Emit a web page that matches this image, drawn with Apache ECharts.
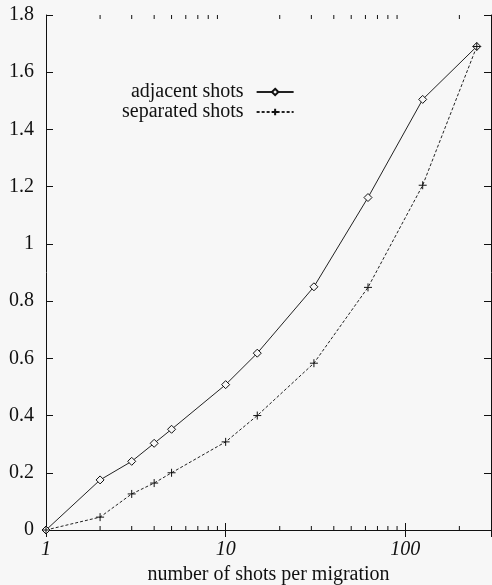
<!DOCTYPE html>
<html>
<head>
<meta charset="utf-8">
<script src="https://cdn.jsdelivr.net/npm/echarts@6/dist/echarts.min.js"></script>
<style>
  html, body { margin: 0; padding: 0; background: #f7f7f7; }
  #main { width: 492px; height: 585px; }
</style>
</head>
<body>
<div id="main"></div>
<script>
// shots per migration (log x axis)
const shots = [1, 2, 3, 4, 5, 10, 15, 31, 62, 125, 250]
// adjacent shots
const adjacent = [0, 0.175, 0.24, 0.303, 0.352, 0.508, 0.618, 0.85, 1.162, 1.505, 1.69]
// separated shots
const separated = [0, 0.045, 0.126, 0.164, 0.2, 0.308, 0.4, 0.583, 0.848, 1.205, 1.69]
// minor ticks of the log axis
const minorTicks = [2, 3, 4, 5, 6, 7, 8, 9, 20, 30, 40, 50, 60, 70, 80, 90, 200]

const serif = 'Liberation Serif'
const ink = '#111'
const chart = echarts.init(document.getElementById('main'))

const pair = (xs, ys) => xs.map((x, i) => [x, ys[i]])

const option = {
    backgroundColor: '#f7f7f7',
    animation: false,
    textStyle: { fontFamily: serif },
    grid: { left: 46, right: 1, top: 15, bottom: 55, outerBoundsMode: 'none' },
    legend: {
        orient: 'vertical',
        left: 122,
        top: 82,
        padding: 0,
        align: 'right',
        itemWidth: 37,
        itemHeight: 8,
        itemGap: 0,
        formatter: name => `{t|${name}}`,
        textStyle: {
            fontFamily: serif, fontSize: 20, color: ink,
            rich: { t: { fontFamily: serif, fontSize: 20, color: ink, width: 134, align: 'right', padding: [0, 8, 0, 0] } }
        },
        data: ['adjacent shots', 'separated shots']
    },
    xAxis: [{
        type: 'log',
        logBase: 10,
        min: 1,
        max: 300,
        position: 'bottom',
        name: 'number of shots per migration',
        nameLocation: 'middle',
        nameGap: 35,
        nameTextStyle: { fontFamily: serif, fontSize: 20, color: ink },
        axisLine: { lineStyle: { color: ink, width: 1 } },
        axisTick: { inside: true, length: 7, lineStyle: { color: ink } },
        axisLabel: { fontFamily: serif, fontSize: 20, fontStyle: 'italic', color: ink, margin: 10, showMaxLabel: false },
        splitLine: { show: false }
    }, {
        type: 'log',
        logBase: 10,
        min: 1,
        max: 300,
        position: 'top',
        axisLine: { lineStyle: { color: ink, width: 1 } },
        axisTick: { inside: true, length: 7, lineStyle: { color: ink } },
        axisLabel: { show: false },
        splitLine: { show: false }
    }],
    yAxis: [{
        type: 'value',
        min: 0,
        max: 1.8,
        interval: 0.2,
        position: 'left',
        axisLine: { show: true, lineStyle: { color: ink, width: 1 } },
        axisTick: { show: true, inside: true, length: 7, lineStyle: { color: ink } },
        axisLabel: { fontFamily: serif, fontSize: 20, color: ink, margin: 12 },
        splitLine: { show: false }
    }, {
        type: 'value',
        min: 0,
        max: 1.8,
        interval: 0.2,
        position: 'right',
        axisLine: { show: true, lineStyle: { color: ink, width: 1 } },
        axisTick: { show: true, inside: true, length: 7, lineStyle: { color: ink } },
        axisLabel: { show: false },
        splitLine: { show: false }
    }],
    series: [{
        name: 'adjacent shots',
        type: 'line',
        data: pair(shots, adjacent),
        clip: false,
        symbol: 'diamond',
        symbolSize: 8,
        itemStyle: { color: '#f7f7f7', borderColor: ink, borderWidth: 1 },
        lineStyle: { color: '#222', width: 1 }
    }, {
        name: 'separated shots',
        type: 'line',
        data: pair(shots, separated),
        clip: false,
        symbol: 'path://M5,0 L5,10 M0,5 L10,5',
        symbolSize: 8,
        itemStyle: { color: 'none', borderColor: ink, borderWidth: 1 },
        lineStyle: { color: '#222', width: 1, type: [3, 2] }
    }, {
        // minor ticks on bottom and top of the log axis
        type: 'custom',
        silent: true,
        data: minorTicks.map(v => [v, 0]),
        renderItem: (params, api) => {
            const x = api.value(0)
            const b = api.coord([x, 0])
            const t = api.coord([x, 1.8])
            return {
                type: 'group',
                children: [{
                    type: 'line',
                    shape: { x1: b[0], y1: b[1], x2: b[0], y2: b[1] - 4 },
                    style: { stroke: ink, lineWidth: 1 }
                }, {
                    type: 'line',
                    shape: { x1: t[0], y1: t[1], x2: t[0], y2: t[1] + 4 },
                    style: { stroke: ink, lineWidth: 1 }
                }]
            }
        }
    }]
}

chart.setOption(option)
</script>
</body>
</html>
